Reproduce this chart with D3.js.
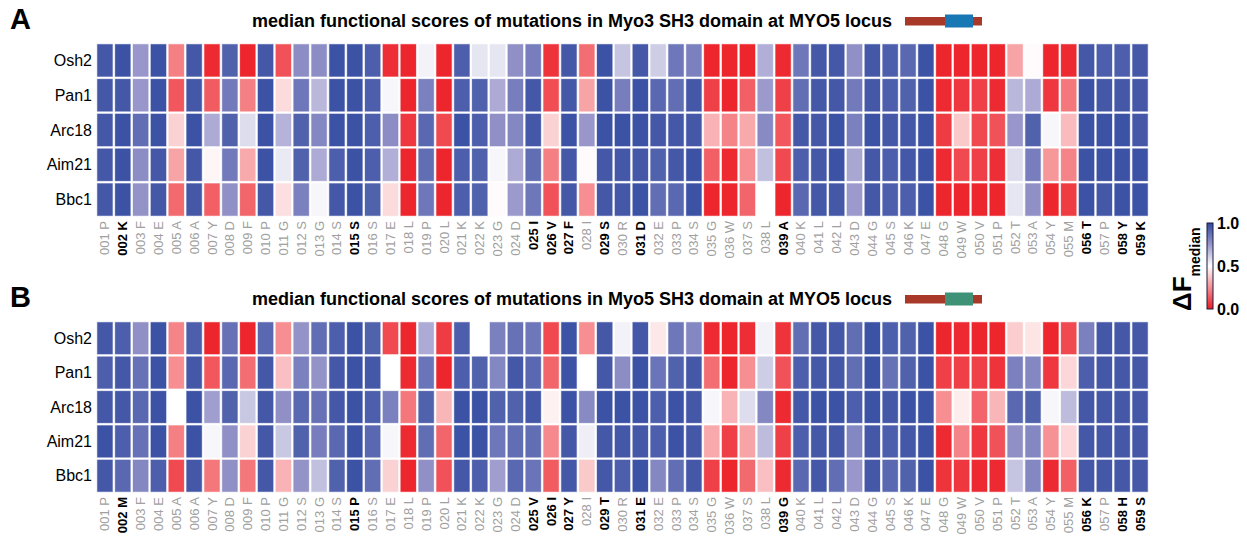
<!DOCTYPE html>
<html>
<head>
<meta charset="utf-8">
<script src="https://cdn.jsdelivr.net/npm/d3@7"></script>
<style>
  body { margin: 0; background: #fff; }
  text { font-family: "Liberation Sans", Arial, Helvetica, sans-serif; }
</style>
</head>
<body>
<svg id="chart" width="1247" height="538"></svg>
<script>
var interactors = ["Osh2", "Pan1", "Arc18", "Aim21", "Bbc1"];

var myo3Residues = "P K F E A A Y D F P G S G S S S E L P L K K G D I V F I S R D E P S G W S L A K L L D G S K E G W V P T A Y M T P Y K".split(" ");
var myo5Residues = "P M F E A A Y D F P G S G S P S E L P L K K G D V I Y I T R E E P S G W S L G K L L D G S K E G W V P T A Y M K P H S".split(" ");
// positions where Myo3 and Myo5 differ (drawn black & bold)
var differing = [2, 15, 25, 26, 27, 29, 31, 39, 56, 58, 59];

// median functional scores, one row per interactor, positions 1..59
var myo3Scores = [
  [0.95,0.97,0.75,0.97,0.22,0.95,0.03,0.92,0.02,0.95, 0.12,0.78,0.78,0.97,0.97,0.93,0.04,0.02,0.53,0.02, 0.93,0.56,0.56,0.77,0.83,0.05,0.95,0.18,0.97,0.64, 0.95,0.62,0.85,0.82,0.02,0.02,0.02,0.69,0.03,0.85, 0.95,0.95,0.77,0.95,0.93,0.90,0.97,0.02,0.02,0.02, 0.02,0.30,0.49,0.02,0.03,0.95,0.93,0.93,0.95],
  [0.95,0.95,0.75,0.97,0.13,0.95,0.14,0.84,0.22,0.97, 0.42,0.85,0.67,0.97,0.97,0.93,0.52,0.02,0.82,0.02, 0.93,0.92,0.70,0.83,0.95,0.11,0.95,0.30,0.97,0.83, 0.97,0.90,0.88,0.95,0.08,0.02,0.15,0.74,0.08,0.88, 0.95,0.95,0.84,0.95,0.93,0.92,0.97,0.03,0.06,0.08, 0.03,0.67,0.70,0.06,0.20,0.97,0.95,0.95,0.95],
  [0.95,0.97,0.88,0.97,0.40,0.97,0.70,0.92,0.58,0.97, 0.68,0.92,0.80,0.97,0.97,0.93,0.78,0.06,0.90,0.10, 0.97,0.93,0.77,0.80,0.95,0.40,0.97,0.75,0.97,0.97, 0.97,0.95,0.95,0.95,0.33,0.23,0.31,0.79,0.13,0.95, 0.95,0.97,0.82,0.97,0.95,0.95,0.97,0.07,0.38,0.10, 0.12,0.75,0.92,0.52,0.35,0.97,0.97,0.97,0.95],
  [0.95,0.97,0.78,0.95,0.30,0.95,0.48,0.84,0.31,0.97, 0.55,0.92,0.70,0.93,0.97,0.93,0.69,0.02,0.88,0.02, 0.93,0.92,0.52,0.70,0.88,0.22,0.95,0.49,0.95,0.95, 0.95,0.92,0.95,0.97,0.15,0.03,0.25,0.65,0.10,0.93, 0.95,0.97,0.71,0.95,0.93,0.95,0.97,0.03,0.10,0.08, 0.04,0.58,0.83,0.27,0.23,0.97,0.97,0.97,0.97],
  [0.95,0.97,0.76,0.95,0.17,0.95,0.15,0.77,0.16,0.95, 0.43,0.82,0.52,0.95,0.97,0.92,0.42,0.02,0.85,0.02, 0.93,0.92,0.49,0.74,0.85,0.12,0.95,0.25,0.95,0.95, 0.97,0.88,0.90,0.97,0.02,0.02,0.16,0.50,0.02,0.90, 0.95,0.95,0.74,0.95,0.93,0.93,0.97,0.02,0.02,0.02, 0.02,0.56,0.77,0.02,0.07,0.97,0.95,0.97,0.97]
];

var myo5Scores = [
  [0.95,0.93,0.77,0.97,0.23,0.93,0.02,0.87,0.02,0.90, 0.25,0.76,0.88,0.93,0.97,0.92,0.10,0.02,0.70,0.07, 0.93,0.50,0.82,0.87,0.85,0.10,0.97,0.25,0.95,0.53, 0.95,0.45,0.85,0.80,0.03,0.02,0.04,0.53,0.05,0.88, 0.95,0.95,0.88,0.97,0.93,0.92,0.97,0.02,0.03,0.02, 0.02,0.39,0.44,0.02,0.10,0.82,0.95,0.95,0.95],
  [0.93,0.95,0.87,0.97,0.25,0.95,0.13,0.90,0.18,0.95, 0.36,0.82,0.76,0.95,0.97,0.95,0.50,0.03,0.86,0.02, 0.93,0.92,0.80,0.95,0.90,0.16,0.97,0.50,0.95,0.78, 0.97,0.86,0.92,0.95,0.18,0.02,0.25,0.62,0.12,0.93, 0.95,0.95,0.88,0.97,0.87,0.92,0.97,0.08,0.08,0.08, 0.05,0.82,0.80,0.06,0.41,0.93,0.95,0.95,0.95],
  [0.95,0.95,0.90,0.97,0.50,0.97,0.73,0.92,0.63,0.95, 0.77,0.90,0.87,0.95,0.97,0.93,0.82,0.20,0.92,0.34, 0.97,0.97,0.92,0.92,0.95,0.47,0.97,0.79,0.97,0.97, 0.97,0.93,0.97,0.95,0.52,0.33,0.58,0.80,0.03,0.95, 0.97,0.97,0.93,0.97,0.95,0.97,0.97,0.25,0.46,0.16, 0.34,0.90,0.92,0.52,0.66,0.95,0.95,0.95,0.95],
  [0.97,0.93,0.87,0.97,0.22,0.97,0.52,0.77,0.40,0.95, 0.63,0.92,0.83,0.90,0.97,0.90,0.52,0.03,0.88,0.16, 0.97,0.97,0.85,0.88,0.88,0.24,0.95,0.54,0.95,0.95, 0.95,0.93,0.97,0.95,0.31,0.08,0.30,0.66,0.08,0.93, 0.95,0.95,0.80,0.95,0.93,0.95,0.97,0.03,0.23,0.06, 0.12,0.77,0.80,0.26,0.41,0.95,0.95,0.95,0.95],
  [0.95,0.90,0.80,0.93,0.10,0.95,0.20,0.77,0.20,0.95, 0.33,0.76,0.65,0.92,0.97,0.88,0.40,0.02,0.77,0.12, 0.95,0.93,0.73,0.90,0.86,0.14,0.95,0.38,0.95,0.93, 0.97,0.80,0.88,0.95,0.08,0.02,0.17,0.36,0.03,0.90, 0.95,0.88,0.75,0.95,0.90,0.92,0.97,0.05,0.06,0.03, 0.03,0.64,0.80,0.03,0.15,0.95,0.95,0.95,0.95]
];

var legendTicks = [0, 0.5, 1];

var svg = d3.select("#chart");

var color = d3.scaleLinear()
  .domain([0, 0.5, 0.75, 1])
  .range(["#ec1c24", "#ffffff", "#9896ca", "#3049a0"])
  .clamp(true);

var positions = d3.range(1, 60);
var pad3 = function(n) { return ("00" + n).slice(-3); };

var x = d3.scaleBand().domain(positions).range([96, 1149]);

function drawPanel(letter, protein, residues, scores, top, bottom, boxColor) {
  var y = d3.scaleBand().domain(interactors).range([top, bottom]);
  var g = svg.append("g");

  var cells = [];
  scores.forEach(function(row, ri) {
    row.forEach(function(v, ci) {
      cells.push({ row: interactors[ri], pos: positions[ci], value: v });
    });
  });

  g.selectAll("rect.cell")
    .data(cells)
    .enter()
    .append("rect")
    .attr("class", "cell")
    .attr("x", function(d) { return x(d.pos) + 1.3; })
    .attr("y", function(d) { return y(d.row) + 1.3; })
    .attr("width", x.bandwidth() - 2.6)
    .attr("height", y.bandwidth() - 2.6)
    .style("fill", function(d) { return color(d.value); })
    .style("stroke", function(d) { return color(d.value); })
    .style("stroke-opacity", 0.35)
    .style("stroke-width", 1);

  // row labels
  g.selectAll("text.row")
    .data(interactors)
    .enter()
    .append("text")
    .attr("x", 92)
    .attr("y", function(d) { return y(d) + y.bandwidth() / 2; })
    .attr("dy", "0.35em")
    .style("text-anchor", "end")
    .style("font-size", "16px")
    .text(function(d) { return d; });

  // column labels
  g.selectAll("text.col")
    .data(positions)
    .enter()
    .append("text")
    .attr("transform", function(d) {
      return "translate(" + (x(d) + x.bandwidth() / 2 + 4.5) + "," + (bottom + 4) + ") rotate(-90)";
    })
    .style("text-anchor", "end")
    .style("font-size", "13px")
    .style("fill", function(d) { return differing.indexOf(d) >= 0 ? "#000" : "#a0a0a0"; })
    .style("font-weight", function(d) { return differing.indexOf(d) >= 0 ? "bold" : "normal"; })
    .text(function(d, i) { return pad3(d) + " " + residues[i]; });

  // panel letter
  svg.append("text")
    .attr("x", 10)
    .attr("y", top - 14)
    .style("font-size", "29px")
    .style("font-weight", "bold")
    .text(letter);

  // title
  svg.append("text")
    .attr("x", 892)
    .attr("y", top - 16)
    .style("text-anchor", "end")
    .style("font-size", "18px")
    .style("font-weight", "bold")
    .text("median functional scores of mutations in " + protein + " SH3 domain at MYO5 locus");

  // locus glyph
  svg.append("rect")
    .attr("x", 905).attr("y", top - 26)
    .attr("width", 77).attr("height", 8.5)
    .style("fill", "#a83828");
  svg.append("rect")
    .attr("x", 945).attr("y", top - 28.5)
    .attr("width", 28).attr("height", 13)
    .style("fill", boxColor);
}

drawPanel("A", "Myo3", myo3Residues, myo3Scores, 43, 217, "#1878b4");
drawPanel("B", "Myo5", myo5Residues, myo5Scores, 321, 493, "#3f9278");

// legend
var defs = svg.append("defs");
var grad = defs.append("linearGradient")
  .attr("id", "lg").attr("x1", 0).attr("y1", 1).attr("x2", 0).attr("y2", 0);
d3.range(0, 1.001, 0.05).forEach(function(t) {
  grad.append("stop").attr("offset", t).attr("stop-color", color(t));
});

var ly = d3.scaleLinear().domain([0, 1]).range([309, 223]);
svg.append("rect")
  .attr("x", 1207).attr("y", ly(1))
  .attr("width", 6).attr("height", ly(0) - ly(1))
  .style("fill", "url(#lg)")
  .style("stroke", "#1a1a40")
  .style("stroke-width", 1);

svg.selectAll("text.lt")
  .data(legendTicks)
  .enter()
  .append("text")
  .attr("x", 1217)
  .attr("y", function(d) { return ly(d); })
  .attr("dy", "0.35em")
  .style("font-size", "16px")
  .style("font-weight", "bold")
  .text(function(d) { return d.toFixed(1); });

var lt = svg.append("text")
  .attr("transform", "translate(1191,311) rotate(-90)")
  .style("font-weight", "bold");
lt.append("tspan").style("font-size", "26px").text("ΔF");
lt.append("tspan").attr("dy", 9).style("font-size", "14px").text("median");
</script>
</body>
</html>
